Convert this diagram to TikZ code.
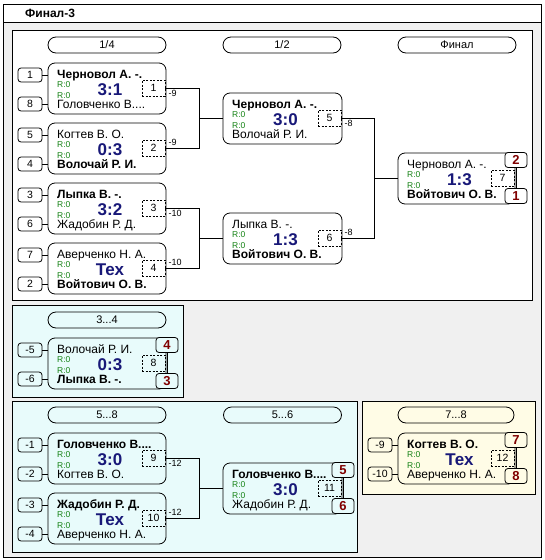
\documentclass[tikz,border=0pt]{standalone}
\usepackage{fontspec}
\setmainfont{Liberation Sans}
\definecolor{bggrey}{RGB}{240,240,240}
\definecolor{cyanbg}{RGB}{232,251,251}
\definecolor{yellowbg}{RGB}{255,252,230}
\definecolor{scoreblue}{RGB}{24,24,120}
\definecolor{rgreen}{RGB}{20,130,20}
\definecolor{placered}{RGB}{128,0,0}
\tikzset{
  every node/.style={inner sep=0pt},
  conn/.style={draw, line width=0.8pt},
  panel/.style={draw, line width=0.8pt},
  matchbox/.style={draw, line width=0.8pt, rounded corners=7pt, minimum height=51pt},
  pill/.style={draw, line width=0.8pt, rounded corners=8pt, minimum height=16pt, font=\fontsize{11}{11}\selectfont},
  seedbox/.style={draw, line width=0.8pt, rounded corners=3pt, minimum width=24pt, minimum height=14pt, font=\fontsize{10.5}{10.5}\selectfont},
  placebox/.style={draw, line width=0.8pt, rounded corners=3pt, minimum width=22pt, minimum height=15pt, font=\fontsize{13}{13}\selectfont\bfseries, text=placered},
  dbox/.style={draw, line width=0.7pt, dash pattern=on 2pt off 1.5pt, minimum width=23pt, minimum height=16pt, font=\fontsize{10.5}{10.5}\selectfont},
  nametext/.style={anchor=base west, font=\fontsize{12}{12}\selectfont},
  rtext/.style={anchor=base west, font=\fontsize{8.5}{8.5}\selectfont, text=rgreen},
  scoretext/.style={anchor=base, font=\fontsize{17}{17}\selectfont\bfseries, text=scoreblue},
  lbl/.style={font=\fontsize{9}{9}\selectfont},
}
% id, left, right, top, top name, bottom name, score, match number
\newcommand{\brkmatch}[8]{%
  \node[matchbox, minimum width={(#3-#2)*1pt}] (#1) at ({(#2+#3)/2},{#4+25.5}) {};
  \node[nametext] (#1t) at ({#2+9},{#4+15}) {#5};
  \node[rtext] (#1ra) at ({#2+9},{#4+24}) {R:0};
  \node[rtext] (#1rb) at ({#2+9},{#4+35}) {R:0};
  \node[scoretext] (#1s) at ({(#2+#3)/2+3},{#4+32}) {#7};
  \node[nametext] (#1b) at ({#2+9},{#4+45}) {#6};
  \node[dbox] (#1d) at ({#3-12.5},{#4+25}) {#8};
}
% match id, match left, top, seed a, seed b
\newcommand{\brkseeds}[5]{%
  \node[seedbox] (#1sa) at ({#2-18},{#3+12}) {#4};
  \node[seedbox] (#1sb) at ({#2-18},{#3+41}) {#5};
  \draw[conn] (#1sa.east) -- (#1sa.east -| #1.west);
  \draw[conn] (#1sb.east) -- (#1sb.east -| #1.west);
}
% match id, x centre, top, place a, place b, fill
\newcommand{\brkplaces}[6]{%
  \node[placebox, fill=#6] (#1pa) at ({#2},{#3+7}) {#4};
  \node[placebox, fill=#6] (#1pb) at ({#2},{#3+43}) {#5};
  \draw[conn] (#1pa.south) -- (#1pb.north);
}
\begin{document}
\begin{tikzpicture}[x=1pt, y=-1pt]
\useasboundingbox (0,0) rectangle (544,560);
\fill[white] (0,0) rectangle (544,560);
% panels
\draw[panel, fill=bggrey] (3,4) rectangle (541,557);
\draw[panel, fill=white] (3,4) rectangle (541,22);
\node[anchor=base west, font=\fontsize{12}{12}\selectfont\bfseries] (title) at (25,17.5) {Финал-3};
\draw[panel, fill=white] (12,30) rectangle (532,300);
\draw[panel, fill=cyanbg] (12,305) rectangle (183,397);
\draw[panel, fill=cyanbg] (12,401) rectangle (357,552);
\draw[panel, fill=yellowbg] (362,401) rectangle (535,494);
% round headers
\node[pill, minimum width=118pt] (h14) at (107,45) {1/4};
\node[pill, minimum width=118pt] (h12) at (282,45) {1/2};
\node[pill, minimum width=118pt] (hfin) at (457,45) {Финал};
\node[pill, minimum width=118pt] (h34) at (107,320) {3...4};
\node[pill, minimum width=118pt] (h58) at (107,415) {5...8};
\node[pill, minimum width=118pt] (h56) at (282.5,415) {5...6};
\node[pill, minimum width=116pt] (h78) at (456,415) {7...8};
% main bracket
\brkmatch{qf1}{48}{166}{63}{\bfseries Черновол А. -.}{Головченко В....}{3:1}{1}
\brkmatch{qf2}{48}{166}{123}{Когтев В. О.}{\bfseries Волочай Р. И.}{0:3}{2}
\brkmatch{qf3}{48}{166}{183}{\bfseries Лыпка В. -.}{Жадобин Р. Д.}{3:2}{3}
\brkmatch{qf4}{48}{166}{243}{Аверченко Н. А.}{\bfseries Войтович О. В.}{Тех}{4}
\brkseeds{qf1}{48}{63}{1}{8}
\brkseeds{qf2}{48}{123}{5}{4}
\brkseeds{qf3}{48}{183}{3}{6}
\brkseeds{qf4}{48}{243}{7}{2}
\brkmatch{sf1}{223}{342}{93}{\bfseries Черновол А. -.}{Волочай Р. И.}{3:0}{5}
\brkmatch{sf2}{223}{342}{213}{Лыпка В. -.}{\bfseries Войтович О. В.}{1:3}{6}
\brkmatch{fin}{398}{515}{153}{Черновол А. -.}{\bfseries Войтович О. В.}{1:3}{7}
\brkplaces{fin}{516}{153}{2}{1}{white}
\path (sf1.west) -- ++(-23,0) coordinate (j1);
\path (sf2.west) -- ++(-23,0) coordinate (j2);
\path (fin.west) -- ++(-23,0) coordinate (j3);
\draw[conn] (qf1d.east) -| (j1) |- (qf2d.east);
\draw[conn] (j1) -- (sf1.west);
\draw[conn] (qf3d.east) -| (j2) |- (qf4d.east);
\draw[conn] (j2) -- (sf2.west);
\draw[conn] (sf1d.east) -| (j3) |- (sf2d.east);
\draw[conn] (j3) -- (fin.west);
\node[lbl, anchor=north west] (l1) at ([xshift=3pt, yshift=-2pt]qf1d.east) {-9};
\node[lbl, anchor=south west] (l2) at ([xshift=3pt, yshift=2pt]qf2d.east) {-9};
\node[lbl, anchor=north west] (l3) at ([xshift=3pt, yshift=-2pt]qf3d.east) {-10};
\node[lbl, anchor=south west] (l4) at ([xshift=3pt, yshift=2pt]qf4d.east) {-10};
\node[lbl, anchor=north west] (l5) at ([xshift=3pt, yshift=-2pt]sf1d.east) {-8};
\node[lbl, anchor=south west] (l6) at ([xshift=3pt, yshift=2pt]sf2d.east) {-8};
% 3...4
\brkmatch{m8}{48}{166}{338}{Волочай Р. И.}{\bfseries Лыпка В. -.}{0:3}{8}
\brkseeds{m8}{48}{338}{-5}{-6}
\brkplaces{m8}{167}{338}{4}{3}{cyanbg}
% 5...8
\brkmatch{m9}{48}{166}{433}{\bfseries Головченко В....}{Когтев В. О.}{3:0}{9}
\brkmatch{m10}{48}{166}{493}{\bfseries Жадобин Р. Д.}{Аверченко Н. А.}{Тех}{10}
\brkseeds{m9}{48}{433}{-1}{-2}
\brkseeds{m10}{48}{493}{-3}{-4}
\brkmatch{m11}{223}{342}{463}{\bfseries Головченко В....}{Жадобин Р. Д.}{3:0}{11}
\brkplaces{m11}{343}{463}{5}{6}{cyanbg}
\path (m11.west) -- ++(-23,0) coordinate (j4);
\draw[conn] (m9d.east) -| (j4) |- (m10d.east);
\draw[conn] (j4) -- (m11.west);
\node[lbl, anchor=north west] (l9) at ([xshift=3pt, yshift=-2pt]m9d.east) {-12};
\node[lbl, anchor=south west] (l10) at ([xshift=3pt, yshift=2pt]m10d.east) {-12};
% 7...8
\brkmatch{m12}{398}{515}{433}{\bfseries Когтев В. О.}{Аверченко Н. А.}{Тех}{12}
\brkseeds{m12}{398}{433}{-9}{-10}
\brkplaces{m12}{516}{433}{7}{8}{yellowbg}
\end{tikzpicture}
\end{document}
